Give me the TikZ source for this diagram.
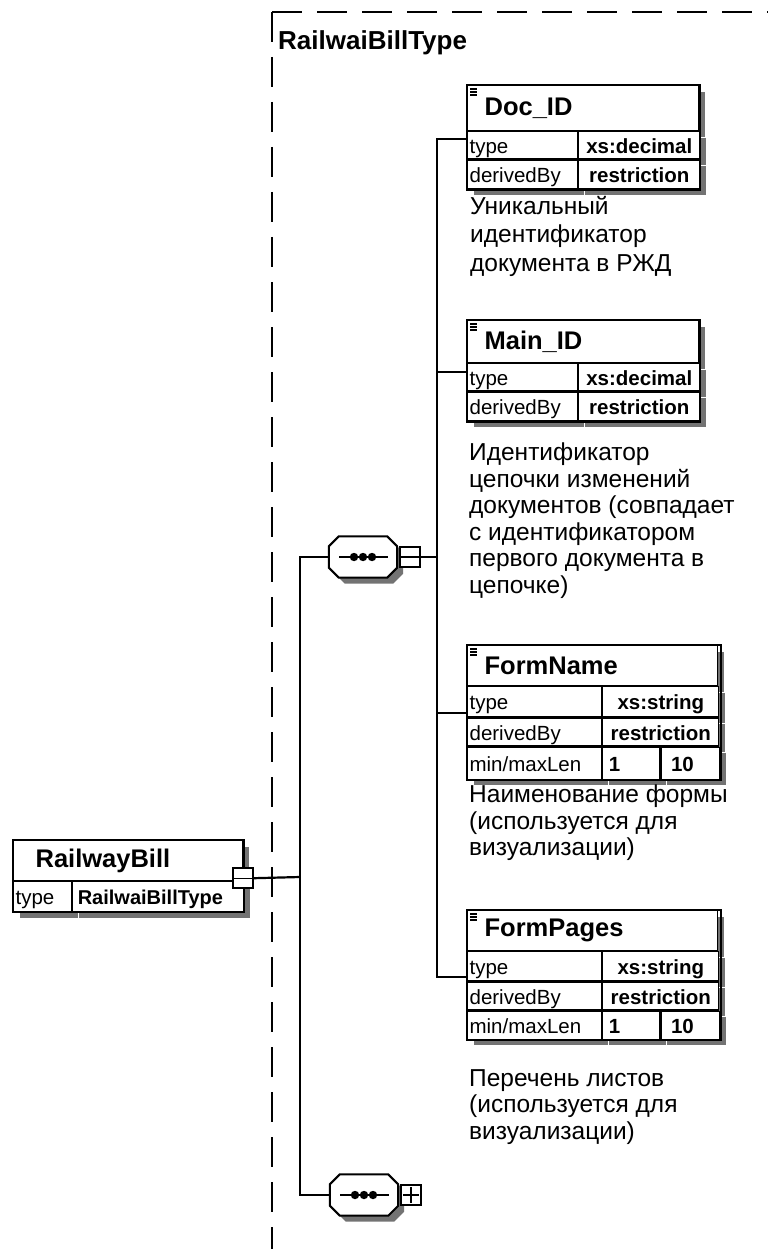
\documentclass[tikz,border=0pt]{standalone}
\usepackage{fontspec}
\setmainfont{Liberation Sans}
\usetikzlibrary{positioning,shadows}

\tikzset{
  wire/.style={line width=2.2pt},
  elemframe/.style={line width=2pt},
  boxshadow/.style={drop shadow={shadow xshift=6pt, shadow yshift=-6pt, fill=black!55, opacity=1}},
  hdr/.style={draw, line width=1.2pt, fill=white, boxshadow, anchor=north west, inner xsep=17pt, inner ysep=0pt, align=left, font=\fontsize{25.5}{28}\selectfont\bfseries},
  cell/.style={draw, line width=1.2pt, fill=white, boxshadow, anchor=north west, inner xsep=2pt, inner ysep=0pt, text height=17pt, text depth=1pt, align=left, font=\fontsize{20.5}{24}\selectfont},
  val/.style={cell, align=center, font=\fontsize{20.5}{24}\selectfont\bfseries},
  desc/.style={anchor=north west, inner sep=0pt, align=left, font=\fontsize{24.5}{26.5}\selectfont},
  seq/.style={inner sep=0pt, minimum width=68pt, minimum height=41pt},
  box/.style={draw, line width=1.6pt, fill=white, minimum size=20pt, inner sep=0pt},
  bound/.style={line width=2pt, dash pattern=on 30pt off 15pt}
}
\newcommand{\xsicon}[1]{\foreach \d in {4,7,10} \draw[line width=1.2pt] ([shift={(3pt,-\d pt)}]#1.north west) -- ++(7,0);}
\newcommand{\seqshape}[1]{%
  \filldraw[fill=white, line width=2pt, boxshadow]
    ([xshift=10pt]#1.north west) -- ([xshift=-10pt]#1.north east) -- ([yshift=-10pt]#1.north east)
    -- ([yshift=10pt]#1.south east) -- ([xshift=-10pt]#1.south east) -- ([xshift=10pt]#1.south west)
    -- ([yshift=10pt]#1.south west) -- ([yshift=-10pt]#1.north west) -- cycle;
  \draw[line width=1.8pt] ([xshift=-24pt]#1.center) -- ([xshift=25pt]#1.center);
  \foreach \dx in {-9,0,9} \fill ([xshift=\dx pt]#1.center) circle (4.2pt);}

\begin{document}
\begin{tikzpicture}[x=1pt,y=-1pt]
  \useasboundingbox (0,0) rectangle (768,1249);

  % complex type frame
  \draw[bound] (272,12) -- (768,12);
  \draw[bound] (272,12) -- (272,1249);
  \node[anchor=west, inner sep=0pt, font=\fontsize{26}{30}\selectfont\bfseries] (btype) at (278,43) {RailwaiBillType};

  % root element
  \node[hdr, inner xsep=22pt, text width=185pt, minimum height=40pt] (rbill) at (13,840) {RailwayBill};
  \node[cell, text width=54pt, minimum height=30pt] (rbill-t) at (rbill.south west) {type};
  \node[val, align=left, inner xsep=5pt, text width=161pt, minimum height=30pt, font=\fontsize{20}{24}\selectfont\bfseries] (rbill-tv) at (rbill-t.north east) {RailwaiBillType};
  \draw[elemframe] (rbill.north west) rectangle (rbill-tv.south east);
  \node[box] (rbill-sq) at ([yshift=3pt]rbill.south east) {};
  \draw[line width=1.4pt] ([xshift=2pt]rbill-sq.west) -- ([xshift=-2pt]rbill-sq.east);

  % sequences
  \node[seq] (seqA) at (363,557) {};
  \seqshape{seqA}
  \node[box, right=2pt of seqA] (seqA-sq) {};
  \draw[line width=1.4pt] ([xshift=2pt]seqA-sq.west) -- ([xshift=-2pt]seqA-sq.east);
  \node[seq] (seqB) at (364,1195) {};
  \seqshape{seqB}
  \node[box, right=2pt of seqB] (seqB-sq) {};
  \draw[line width=1.4pt] ([xshift=3pt]seqB-sq.west) -- ([xshift=-3pt]seqB-sq.east);
  \draw[line width=1.4pt] ([yshift=3pt]seqB-sq.south) -- ([yshift=-3pt]seqB-sq.north);

  % Doc_ID
  \node[hdr, text width=197pt, minimum height=45pt] (docid) at (467,85) {Doc\_ID};
  \node[cell, text width=106pt, minimum height=27pt] (docid-t) at (docid.south west) {type};
  \node[val, text width=117pt, minimum height=27pt] (docid-tv) at (docid-t.north east) {xs:decimal};
  \node[cell, text width=106pt, minimum height=29pt] (docid-d) at (docid-t.south west) {derivedBy};
  \node[val, text width=117pt, minimum height=29pt] (docid-dv) at (docid-d.north east) {restriction};
  \draw[elemframe] (docid.north west) rectangle (docid-dv.south east);
  \xsicon{docid}
  \coordinate (docid-in) at ([yshift=6.5pt]docid-t.west);
  \node[desc, font=\fontsize{24.5}{28.5}\selectfont] (docid-note) at (470,196) {Уникальный\\идентификатор\\документа в РЖД};

  % Main_ID
  \node[hdr, text width=197pt, minimum height=42pt] (mainid) at (467,320) {Main\_ID};
  \node[cell, text width=106pt, minimum height=27pt] (mainid-t) at (mainid.south west) {type};
  \node[val, text width=117pt, minimum height=27pt] (mainid-tv) at (mainid-t.north east) {xs:decimal};
  \node[cell, text width=106pt, minimum height=29pt] (mainid-d) at (mainid-t.south west) {derivedBy};
  \node[val, text width=117pt, minimum height=29pt] (mainid-dv) at (mainid-d.north east) {restriction};
  \draw[elemframe] (mainid.north west) rectangle (mainid-dv.south east);
  \xsicon{mainid}
  \coordinate (mainid-in) at ([yshift=5.5pt]mainid-t.west);
  \node[desc] (mainid-note) at (469,443) {Идентификатор\\цепочки изменений\\документов (совпадает\\с идентификатором\\первого документа в\\цепочке)};

  % FormName
  \node[hdr, text width=216pt, minimum height=40pt] (fname) at (467,645) {FormName};
  \node[cell, text width=130pt, minimum height=30pt] (fname-t) at (fname.south west) {type};
  \node[val, text width=112pt, minimum height=30pt] (fname-tv) at (fname-t.north east) {xs:string};
  \node[cell, text width=130pt, minimum height=28pt] (fname-d) at (fname-t.south west) {derivedBy};
  \node[val, text width=112pt, minimum height=28pt] (fname-dv) at (fname-d.north east) {restriction};
  \node[cell, text width=130pt, minimum height=32pt] (fname-m) at (fname-d.south west) {min/maxLen};
  \node[val, align=left, inner xsep=6pt, text width=45pt, minimum height=32pt] (fname-min) at (fname-m.north east) {1};
  \node[val, align=left, inner xsep=10pt, text width=39pt, minimum height=32pt] (fname-max) at (fname-min.north east) {10};
  \draw[elemframe] (fname.north west) rectangle (fname-max.south east);
  \xsicon{fname}
  \coordinate (fname-in) at ([yshift=-11pt]fname-t.west);
  \node[desc] (fname-note) at (469,785) {Наименование формы\\(используется для\\визуализации)};

  % FormPages
  \node[hdr, text width=216pt, minimum height=40pt] (fpages) at (467,910) {FormPages};
  \node[cell, text width=130pt, minimum height=29pt] (fpages-t) at (fpages.south west) {type};
  \node[val, text width=112pt, minimum height=29pt] (fpages-tv) at (fpages-t.north east) {xs:string};
  \node[cell, text width=130pt, minimum height=28pt] (fpages-d) at (fpages-t.south west) {derivedBy};
  \node[val, text width=112pt, minimum height=28pt] (fpages-dv) at (fpages-d.north east) {restriction};
  \node[cell, text width=130pt, minimum height=28pt] (fpages-m) at (fpages-d.south west) {min/maxLen};
  \node[val, align=left, inner xsep=6pt, text width=45pt, minimum height=28pt] (fpages-min) at (fpages-m.north east) {1};
  \node[val, align=left, inner xsep=10pt, text width=39pt, minimum height=28pt] (fpages-max) at (fpages-min.north east) {10};
  \draw[elemframe] (fpages.north west) rectangle (fpages-max.south east);
  \xsicon{fpages}
  \coordinate (fpages-in) at ([yshift=-10.5pt]fpages-t.west);
  \node[desc] (fpages-note) at (469,1069) {Перечень листов\\(используется для\\визуализации)};

  % connectors
  \coordinate (busA) at (300,877);
  \coordinate (busB) at (437,557);
  \draw[wire] (rbill-sq.east) -- (busA);
  \draw[wire] (seqA.west) -| (busA) |- (seqB.west);
  \draw[wire] (seqA-sq.east) -- (busB);
  \draw[wire] (docid-in) -| (busB) |- (fpages-in);
  \draw[wire] (mainid-in) -- (mainid-in -| busB);
  \draw[wire] (fname-in) -- (fname-in -| busB);
\end{tikzpicture}
\end{document}
